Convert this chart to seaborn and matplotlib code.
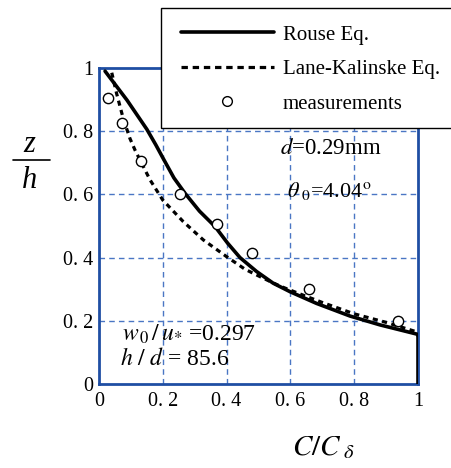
import numpy as np
import pandas as pd
import matplotlib
matplotlib.use("Agg")
import matplotlib.pyplot as plt
from matplotlib.patches import Rectangle
from matplotlib.lines import Line2D
import seaborn as sns

# ---- data ----
rouse_x = [0.019, 0.088, 0.150, 0.178, 0.200, 0.235, 0.270, 0.315, 0.364, 0.403,
           0.442, 0.494, 0.546, 0.599, 0.682, 0.787, 0.881, 0.996, 1.0, 1.0]
rouse_y = [0.990, 0.898, 0.806, 0.757, 0.716, 0.652, 0.603, 0.547, 0.498, 0.446,
           0.400, 0.356, 0.319, 0.292, 0.255, 0.215, 0.187, 0.158, 0.155, 0.0]

lk_x = [0.040, 0.055, 0.076, 0.097, 0.113, 0.139, 0.160, 0.200, 0.264, 0.327,
        0.400, 0.458, 0.494, 0.531, 0.567, 0.630, 0.700, 0.800, 0.900, 0.996]
lk_y = [0.985, 0.920, 0.840, 0.777, 0.740, 0.688, 0.646, 0.582, 0.514, 0.456,
        0.403, 0.363, 0.345, 0.327, 0.310, 0.285, 0.258, 0.222, 0.195, 0.165]

meas_x = [0.027, 0.073, 0.132, 0.254, 0.371, 0.479, 0.659, 0.938]
meas_y = [0.906, 0.825, 0.707, 0.600, 0.505, 0.413, 0.300, 0.199]

tick_vals = [0, 0.2, 0.4, 0.6, 0.8, 1]
tick_labels = ["0", "0. 2", "0. 4", "0. 6", "0. 8", "1"]

series_labels = ["Rouse Eq.", "Lane-Kalinske Eq.", "measurements"]

# ---- style ----
sns.set_style("white")
plt.rcParams["font.family"] = ["Liberation Serif", "DejaVu Serif"]
plt.rcParams["mathtext.fontset"] = "stix"
plt.rcParams["text.color"] = "black"

W, H = 451, 468
fig = plt.figure(figsize=(W / 100, H / 100), dpi=100)
ax = fig.add_axes([99 / W, 1 - 384 / H, (418 - 99) / W, (384 - 68) / H])

spine_c = "#1f4ea3"
grid_c = "#4a76c4"
tick_c = "#5b82c8"

rouse = pd.DataFrame({"x": rouse_x, "y": rouse_y})
lk = pd.DataFrame({"x": lk_x, "y": lk_y})
meas = pd.DataFrame({"x": meas_x, "y": meas_y})

sns.lineplot(data=rouse, x="x", y="y", ax=ax, color="black", lw=2.6,
             sort=False, estimator=None, zorder=4)
sns.lineplot(data=lk, x="x", y="y", ax=ax, color="black", lw=2.3,
             sort=False, estimator=None, zorder=4, linestyle=(0, (1.6, 1.4)))
sns.scatterplot(data=meas, x="x", y="y", ax=ax, marker="o", s=55,
                facecolor="white", edgecolor="black", linewidth=1.0, zorder=5)

ax.set_xlim(0, 1)
ax.set_ylim(0, 1)
ax.set_xlabel("")
ax.set_ylabel("")

# grid
for v in [0.2, 0.4, 0.6, 0.8]:
    ax.axvline(v, color=grid_c, lw=1.0, ls=(0, (4, 3)), zorder=1)
    ax.axhline(v, color=grid_c, lw=1.0, ls=(0, (4, 3)), zorder=1)

for s in ax.spines.values():
    s.set_color(spine_c)
    s.set_linewidth(2.0)

ax.set_xticks(tick_vals)
ax.set_xticklabels(tick_labels)
ax.set_yticks(tick_vals)
ax.set_yticklabels(tick_labels)
ax.set_xticks(np.arange(0, 1.0001, 0.05), minor=True)
ax.set_yticks(np.arange(0, 1.0001, 0.05), minor=True)
ax.tick_params(which="both", direction="in", color=tick_c, width=1.0, length=5,
               labelsize=14.5, labelcolor="black")
ax.tick_params(axis="x", pad=6)
ax.tick_params(axis="y", pad=4)

# axis titles
fig.text(29 / W, 1 - 145 / H, "z", fontsize=22, style="italic", ha="center", va="center")
fig.add_artist(Line2D([13 / W, 50 / W], [1 - 160 / H, 1 - 160 / H], color="black", lw=1.2))
fig.text(30 / W, 1 - 180 / H, "h", fontsize=22, style="italic", ha="center", va="center")
fig.text(292 / W, 1 - 448 / H, r"$C/C_{\ \delta}$", fontsize=21, ha="left", va="center")

# annotations
ax.text(280 / W, 1 - 149 / H, r"$d$=0.29mm", transform=fig.transFigure,
        fontsize=16.5, ha="left", va="center")
ax.text(287 / W, 1 - 191 / H, r"$\theta_{\ 0}$=4.04$^{\mathrm{o}}$", transform=fig.transFigure,
        fontsize=16, ha="left", va="center")
ax.text(122 / W, 1 - 334 / H, r"$w_{\,0}\,/\,u_{*}\ $=0.297", transform=fig.transFigure,
        fontsize=17, ha="left", va="center")
ax.text(120 / W, 1 - 359 / H, r"$h\ /\ d$ = 85.6", transform=fig.transFigure,
        fontsize=17, ha="left", va="center")

# legend box
rect = Rectangle((161 / W, 1 - 128 / H), 0.7, (128 - 8) / H, transform=fig.transFigure,
                 facecolor="white", edgecolor="black", lw=1.0, zorder=10)
fig.add_artist(rect)

handles = [Line2D([], [], color="black", lw=2.6),
           Line2D([], [], color="black", lw=2.3, linestyle=(0, (2.0, 1.5))),
           Line2D([], [], color="none", marker="o", markersize=7,
                  markerfacecolor="white", markeredgecolor="black", markeredgewidth=1.0)]
leg = fig.legend(handles, series_labels, loc="upper left",
                 bbox_to_anchor=(181 / W, 1 - 25 / H), frameon=False,
                 fontsize=15, handlelength=4.45, handletextpad=0.45,
                 labelspacing=0.72, borderaxespad=0, borderpad=0)
leg.set_zorder(11)
for t in leg.get_texts():
    t.set_color("black")

fig.savefig("out.png", dpi=100)
